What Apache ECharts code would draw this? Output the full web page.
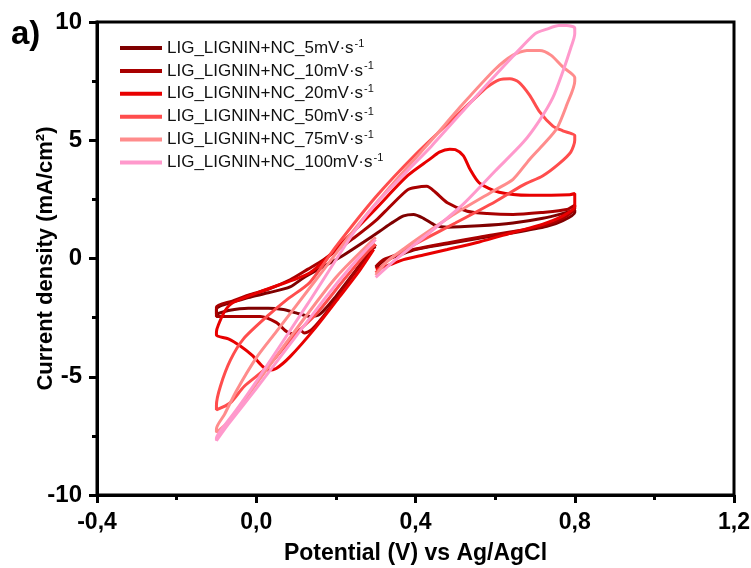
<!DOCTYPE html>
<html>
<head>
<meta charset="utf-8">
<script src="https://cdn.jsdelivr.net/npm/echarts@6/dist/echarts.min.js"></script>
<style>
  html, body { margin: 0; padding: 0; background: #fff; }
  #main { width: 751px; height: 568px; }
</style>
</head>
<body>
<div id="main"></div>
<script>
// scan rates (legend) and line colours
const rates = ['5', '10', '20', '50', '75', '100'];
const colors = ['#7f0000', '#a80000', '#e80000', '#ff4d4d', '#ff8c8c', '#ff99cc'];

// [potential V, current density mA/cm2] — path: 0.3 -> 0.8 -> -0.1 -> 0.3
const cv5 = [
  [0.30,-0.40],[0.32,-0.10],[0.36,0.15],[0.40,0.38],[0.48,0.62],[0.56,0.86],[0.65,1.10],[0.73,1.36],[0.77,1.60],[0.80,1.95],
  [0.80,2.05],[0.78,1.95],[0.72,1.70],[0.645,1.50],[0.56,1.38],[0.48,1.32],[0.45,1.40],[0.42,1.70],[0.395,1.86],[0.37,1.80],
  [0.34,1.50],[0.31,1.15],[0.27,0.70],[0.22,0.15],[0.17,-0.33],[0.12,-0.80],[0.085,-1.20],[0.03,-1.45],[-0.02,-1.65],[-0.06,-1.85],[-0.09,-2.00],[-0.10,-2.15],
  [-0.10,-2.35],[-0.07,-2.20],[-0.02,-2.10],[0.03,-2.10],[0.068,-2.16],[0.10,-2.30],[0.135,-2.45],[0.16,-2.35],[0.20,-1.60],[0.25,-0.50],[0.29,0.40],[0.30,0.50]
];
const cv10 = [
  [0.30,-0.35],[0.32,-0.05],[0.36,0.20],[0.40,0.40],[0.48,0.66],[0.56,0.90],[0.65,1.15],[0.73,1.42],[0.77,1.70],[0.80,2.10],
  [0.80,2.25],[0.78,2.07],[0.72,1.95],[0.645,1.86],[0.58,1.90],[0.53,2.00],[0.48,2.36],[0.45,2.80],[0.428,3.05],[0.40,3.00],
  [0.38,2.90],[0.336,2.20],[0.30,1.60],[0.25,0.93],[0.21,0.45],[0.17,-0.04],[0.13,-0.45],[0.085,-0.90],[0.03,-1.30],[-0.02,-1.55],[-0.06,-1.80],[-0.10,-2.05],
  [-0.10,-2.45],[-0.06,-2.45],[0.01,-2.45],[0.05,-2.70],[0.077,-3.10],[0.10,-3.20],[0.11,-3.00],[0.12,-3.15],[0.14,-3.00],[0.18,-2.20],[0.23,-1.00],[0.27,-0.10],[0.30,0.60]
];
const cv20 = [
  [0.30,-0.45],[0.33,-0.30],[0.37,-0.05],[0.42,0.15],[0.48,0.38],[0.56,0.70],[0.645,1.10],[0.72,1.45],[0.77,1.80],[0.80,2.20],
  [0.80,2.75],[0.787,2.70],[0.687,2.67],[0.61,2.80],[0.56,3.20],[0.537,3.77],[0.52,4.35],[0.50,4.60],[0.486,4.62],[0.46,4.50],
  [0.436,4.20],[0.38,3.50],[0.30,2.10],[0.20,0.40],[0.135,-0.60],[0.027,-1.30],[-0.058,-1.86],[-0.078,-2.20],[-0.095,-2.80],[-0.10,-3.10],
  [-0.10,-3.25],[-0.07,-3.40],[-0.04,-3.70],[-0.01,-4.10],[0.015,-4.55],[0.03,-4.72],[0.05,-4.65],[0.085,-4.15],[0.15,-2.90],[0.21,-1.60],[0.26,-0.50],[0.295,0.38]
];
const cv50 = [
  [0.30,-0.60],[0.33,-0.10],[0.37,0.35],[0.42,0.80],[0.50,1.50],[0.60,2.40],[0.67,3.10],[0.72,3.50],[0.76,4.00],[0.79,4.50],[0.80,5.00],
  [0.80,5.20],[0.77,5.40],[0.745,5.60],[0.712,6.20],[0.687,6.90],[0.66,7.45],[0.637,7.60],[0.61,7.55],[0.58,7.25],[0.56,6.95],
  [0.50,6.00],[0.40,4.40],[0.30,2.60],[0.20,0.50],[0.135,-1.00],[0.077,-1.74],[0.027,-2.45],[-0.032,-3.40],[-0.065,-4.30],[-0.09,-5.40],[-0.10,-6.20],
  [-0.10,-6.40],[-0.065,-6.10],[-0.03,-5.40],[0.027,-4.60],[0.093,-3.30],[0.153,-2.30],[0.22,-0.90],[0.28,0.30],[0.30,0.60]
];
const cv75 = [
  [0.30,-0.70],[0.33,-0.10],[0.37,0.40],[0.42,1.00],[0.50,1.90],[0.60,2.90],[0.645,3.35],[0.687,4.20],[0.72,4.80],[0.755,5.50],[0.78,6.50],[0.80,7.50],
  [0.80,7.65],[0.77,8.10],[0.74,8.60],[0.712,8.80],[0.68,8.80],[0.645,8.60],[0.60,8.00],[0.52,6.55],[0.44,5.00],[0.35,3.30],
  [0.25,1.30],[0.15,-0.90],[0.05,-3.10],[0.00,-4.20],[-0.05,-5.60],[-0.08,-6.60],[-0.10,-7.20],
  [-0.10,-7.35],[-0.07,-6.90],[0.00,-5.30],[0.10,-3.00],[0.20,-0.80],[0.30,0.90]
];
const cv100 = [
  [0.30,-0.80],[0.35,-0.05],[0.436,1.10],[0.52,2.30],[0.60,3.70],[0.67,4.90],[0.71,5.80],[0.745,6.80],[0.77,7.90],[0.79,8.90],[0.80,9.50],
  [0.80,9.75],[0.78,9.85],[0.76,9.85],[0.73,9.70],[0.70,9.50],[0.645,8.55],[0.56,7.00],[0.44,4.75],[0.385,3.80],[0.30,2.30],
  [0.245,1.10],[0.13,-1.90],[0.00,-5.20],[-0.05,-6.40],[-0.09,-7.30],[-0.10,-7.60],
  [-0.10,-7.70],[-0.07,-7.00],[0.00,-5.50],[0.17,-1.74],[0.24,-0.30],[0.30,0.80]
];
const curves = [cv5, cv10, cv20, cv50, cv75, cv100];

const xTicks = { min: -0.4, max: 1.2, interval: 0.4 };
const yTicks = { min: -10, max: 10, interval: 5 };

const myChart = echarts.init(document.getElementById('main'));

const axisCommon = {
    nameMoveOverlap: false,
    axisLine: { onZero: false, lineStyle: { color: '#000', width: 3 } },
    axisTick: { inside: false, length: 8, lineStyle: { color: '#000', width: 3 } },
    minorTick: { show: true, splitNumber: 2, length: 5, lineStyle: { color: '#000', width: 3 } },
    splitLine: { show: false }
};

const option = {
    animation: false,
    backgroundColor: '#fff',
    grid: {
        left: 97, right: 17, top: 22, bottom: 73,
        outerBoundsMode: 'none',
        show: true, borderColor: '#000', borderWidth: 3
    },
    legend: {
        orient: 'vertical',
        left: 115, top: 33,
        itemWidth: 42, itemHeight: 4, itemGap: 4.4,
        icon: 'rect',
        data: rates.map(r => 'LIG_LIGNIN+NC_' + r + 'mV·s'),
        formatter: name => '{t|' + name + '}{s|-1}',
        textStyle: {
            rich: {
                t: { fontFamily: 'Liberation Sans', fontSize: 17, lineHeight: 20, color: '#111' },
                s: { fontFamily: 'Liberation Sans', fontSize: 11, lineHeight: 11, color: '#111', verticalAlign: 'top', padding: [0, 0, 0, 1] }
            }
        }
    },
    xAxis: Object.assign({
        type: 'value',
        min: xTicks.min, max: xTicks.max, interval: xTicks.interval,
        name: 'Potential (V) vs Ag/AgCl',
        nameLocation: 'middle', nameGap: 47,
        nameTextStyle: { fontFamily: 'Liberation Sans', fontWeight: 'bold', fontSize: 23, color: '#000' },
        axisLabel: {
            margin: 16, color: '#000',
            fontFamily: 'Liberation Sans', fontWeight: 'bold', fontSize: 23,
            formatter: v => v.toFixed(1).replace('.', ',')
        }
    }, axisCommon),
    yAxis: Object.assign({
        type: 'value',
        min: yTicks.min, max: yTicks.max, interval: yTicks.interval,
        name: 'Current density (mA/cm²)',
        nameLocation: 'middle', nameGap: 40,
        nameTextStyle: { fontFamily: 'Liberation Sans', fontWeight: 'bold', fontSize: 22, color: '#000' },
        axisLabel: {
            margin: 15, color: '#000',
            fontFamily: 'Liberation Sans', fontWeight: 'bold', fontSize: 24
        }
    }, axisCommon),
    graphic: [{
        type: 'text', left: 11, top: 18,
        style: { text: 'a)', font: 'bold 33px "Liberation Sans"', fill: '#000' }
    }],
    series: curves.map((c, k) => ({
        name: 'LIG_LIGNIN+NC_' + rates[k] + 'mV·s',
        type: 'line',
        data: c,
        showSymbol: false,
        smooth: 0.25,
        color: colors[k],
        lineStyle: { width: 3, color: colors[k] }
    }))
};

myChart.setOption(option);
</script>
</body>
</html>
